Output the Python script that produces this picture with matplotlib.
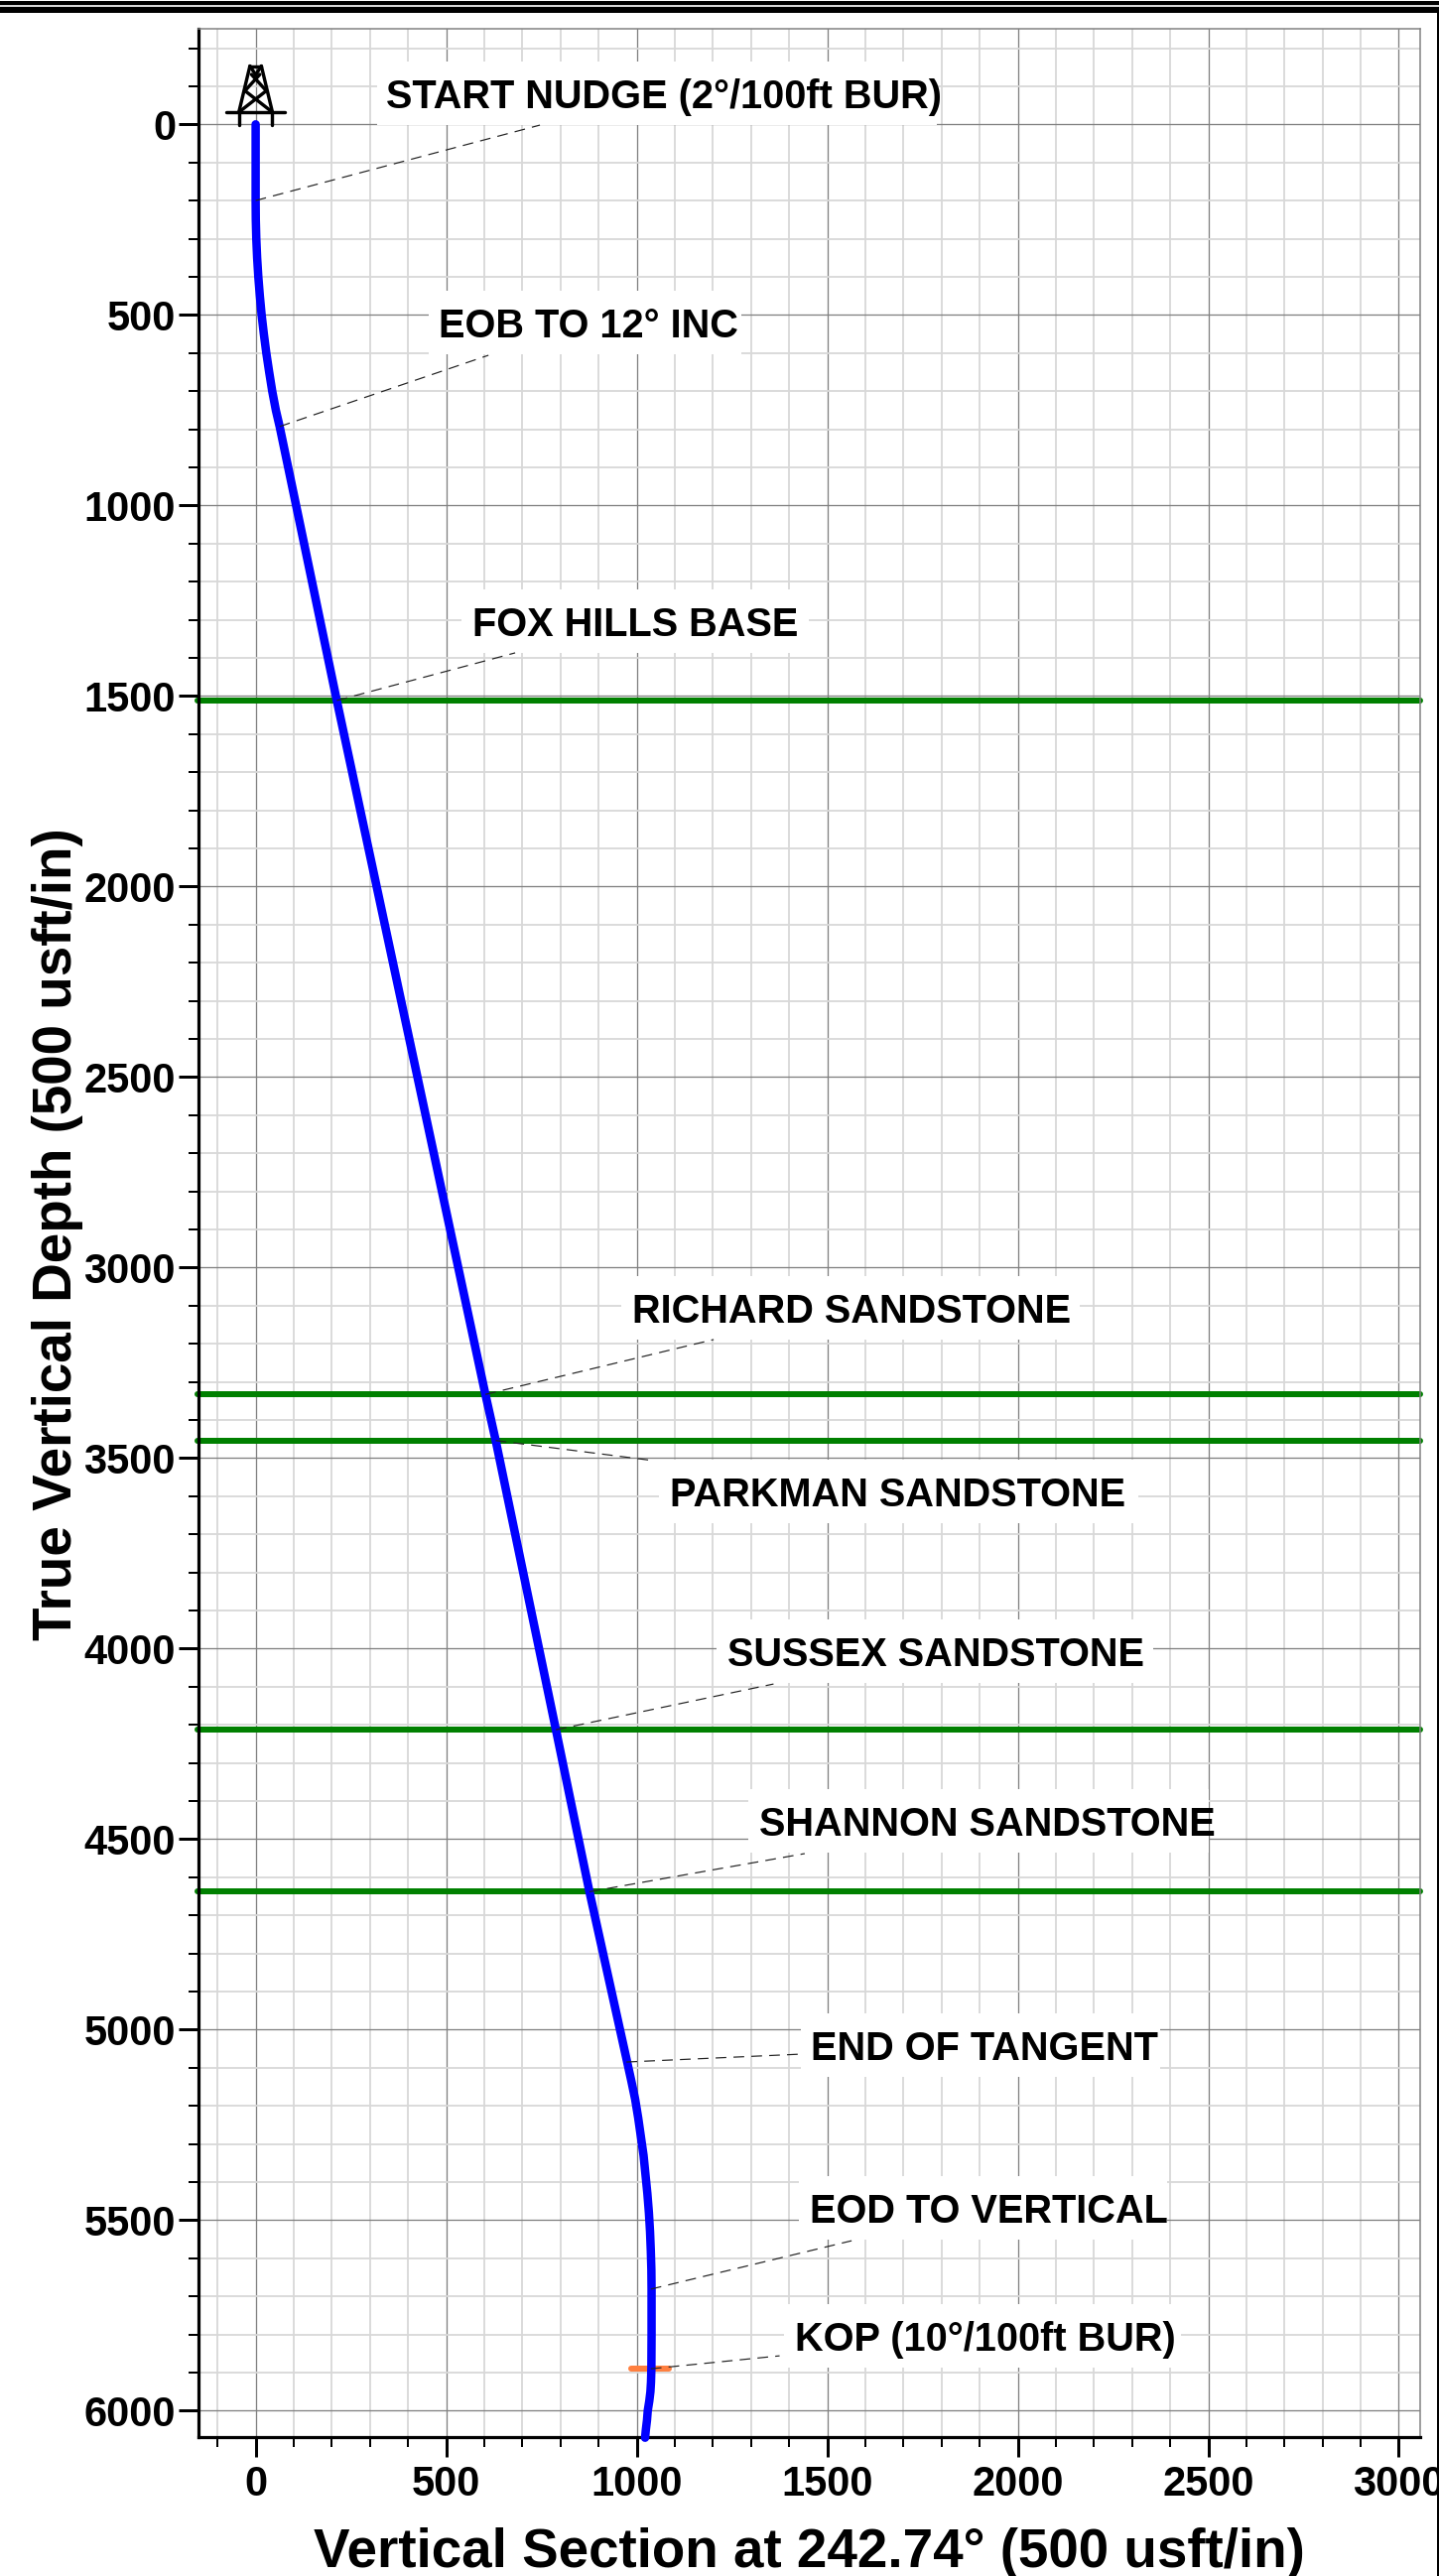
import matplotlib
matplotlib.use("Agg")
import matplotlib.pyplot as plt
from matplotlib.patches import Rectangle

plt.rcParams['font.family'] = ['Liberation Sans', 'DejaVu Sans']
plt.rcParams['font.weight'] = 'bold'

W, H, DPI = 1450, 2596, 100
PX = 72 / DPI

# Well path: true vertical depth and vertical section
tvd = [0, 200, 250, 300, 350, 400, 450, 500, 550, 600, 650, 700, 750, 793, 1512, 3333, 3454,
       4213, 4638, 5085, 5135, 5183, 5232, 5281, 5330, 5380, 5430, 5480, 5530, 5580, 5630, 5680,
       5800, 5890, 5925, 5950, 5975, 6000, 6025, 6050, 6071]
vs = [0, 0, 0.4, 1.7, 3.9, 7, 11, 15.7, 21.5, 28, 35.5, 43.5, 53, 63, 213, 603, 630,
      788, 876, 975, 986, 996, 1004, 1011, 1018, 1023, 1028, 1032, 1035, 1037, 1038.5, 1039,
      1039, 1038.5, 1037.5, 1036, 1033, 1029, 1027, 1024, 1022]

# Formation tops
top_tvd = [1512, 3333, 3454, 4213, 4638]

# Annotated points
labels = ["START NUDGE (2°/100ft BUR)", "EOB TO 12° INC", "FOX HILLS BASE", "RICHARD SANDSTONE",
          "PARKMAN SANDSTONE", "SUSSEX SANDSTONE", "SHANNON SANDSTONE", "END OF TANGENT",
          "EOD TO VERTICAL", "KOP (10°/100ft BUR)"]
point_vs = [0, 63, 213, 603, 630, 788, 876, 973, 1037, 1037]
point_tvd = [200, 793, 1512, 3333, 3454, 4213, 4638, 5085, 5681, 5890]
leader_vs = [746, 611, 681, 1202, 1046, 1359, 1441, 1436, 1564, 1375]
leader_tvd = [2, 606, 1387, 3189, 3507, 4093, 4538, 5064, 5554, 5856]
text_vs = [342, 480, 569, 988, 1087, 1238, 1322, 1457, 1454, 1415]
text_tvd = [-42, 559, 1343, 3145, 3627, 4046, 4491, 5080, 5507, 5843]
box_vs = [319, 455, 540, 960, 1059, 1210, 1293, 1431, 1426, 1387]
box_width = [1469, 820, 911, 1203, 1258, 1146, 1208, 943, 966, 1042]

# KOP target marker
kop_vs = [986, 1085]
kop_tvd = [5890, 5890]

# Rig symbol, as segments relative to the surface location
rig_segments = [((-77, -32), (77, -32)), ((-44, -32), (-44, 1)), ((44, -32), (44, 1)),
                ((-44, -32), (-15, -153)), ((44, -32), (15, -153)), ((-15, -153), (15, -153)),
                ((-44, -32), (28, -88)), ((44, -32), (-28, -88)),
                ((-28, -88), (11, -131)), ((28, -88), (-11, -131)),
                ((-15, -153), (0, -130)), ((15, -153), (0, -130))]

fig = plt.figure(figsize=(W / DPI, H / DPI), dpi=DPI, facecolor='white')
L, R, T, B = 200, 1431, 29.3, 2456.3
ax = fig.add_axes([L / W, 1 - B / H, (R - L) / W, (B - T) / H])
ax.set_xlim(-150, 3056)
ax.set_ylim(6070, -250)
ax.set_axisbelow(True)

ax.set_xticks(range(0, 3001, 500))
ax.set_yticks(range(0, 6001, 500))
ax.set_xticks([v for v in range(-100, 3001, 100) if v % 500], minor=True)
ax.set_yticks([v for v in range(-200, 6001, 100) if v % 500], minor=True)
ax.grid(which='major', color='#808080', lw=1.3 * PX)
ax.grid(which='minor', color='#D8D8D8', lw=1.8 * PX)
ax.tick_params(which='major', length=20 * PX, width=3 * PX, color='black', labelsize=30)
ax.tick_params(which='minor', length=10 * PX, width=2 * PX, color='black')
ax.tick_params(axis='x', which='major', pad=8 * PX)
ax.tick_params(axis='y', which='major', pad=3 * PX)

for s in ['left', 'bottom']:
    ax.spines[s].set_linewidth(3.2 * PX)
    ax.spines[s].set_color('black')
for s in ['top', 'right']:
    ax.spines[s].set_linewidth(1.5 * PX)
    ax.spines[s].set_color('#808080')

# White label panels
for bx, bw, ty in zip(box_vs, box_width, text_tvd):
    ax.add_patch(Rectangle((bx, ty - 122), bw, 166, fc='white', ec='none', zorder=1.5))

# Formation tops
for y in top_tvd:
    ax.plot([-152, 3056], [y, y], color='#008000', lw=6 * PX, solid_capstyle='round',
            zorder=2, clip_on=False)

# Well path
ax.plot(kop_vs, kop_tvd, color='#FF7F3F', lw=6 * PX, solid_capstyle='round', zorder=3)
ax.plot(vs, tvd, color='#0000FF', lw=8.5 * PX, solid_capstyle='round', solid_joinstyle='round',
        zorder=4, clip_on=False)

# Leaders and labels
for px_, py_, lx, ly, tx, ty, s in zip(point_vs, point_tvd, leader_vs, leader_tvd,
                                       text_vs, text_tvd, labels):
    ax.plot([px_, lx], [py_, ly], color='#222222', lw=1.2 * PX, dashes=(9, 6), zorder=5)
    ax.text(tx, ty, s, fontsize=28.6, fontweight='bold', ha='left', va='baseline', color='black',
            zorder=6)

# Rig
for (a, b) in rig_segments:
    ax.plot([a[0], b[0]], [a[1], b[1]], color='black', lw=3.4 * PX, solid_capstyle='round', zorder=6)

fig.text(815 / W, 1 - 2587 / H, "Vertical Section at 242.74° (500 usft/in)", fontsize=39.4,
         fontweight='bold', ha='center', va='baseline')
fig.text(72 / W, 1 - 1653 / H, "True Vertical Depth (500 usft/in)", fontsize=39.4,
         fontweight='bold', rotation=90, ha='left', va='baseline', rotation_mode='anchor')

# Page border
fig.add_artist(Rectangle((0, 1 - 5 / H), 1, 4 / H, transform=fig.transFigure, fc='black', ec='none', zorder=20))
fig.add_artist(Rectangle((0, 1 - 7.5 / H), 1, 2.5 / H, transform=fig.transFigure, fc='#D8D8D8', ec='none', zorder=20))
fig.add_artist(Rectangle((0, 1 - 12.7 / H), 1, 5.2 / H, transform=fig.transFigure, fc='black', ec='none', zorder=20))
fig.add_artist(Rectangle((1448 / W, 0), 2 / W, 1 - 8 / H, transform=fig.transFigure, fc='black', ec='none', zorder=20))

fig.savefig('out.png', dpi=DPI)
